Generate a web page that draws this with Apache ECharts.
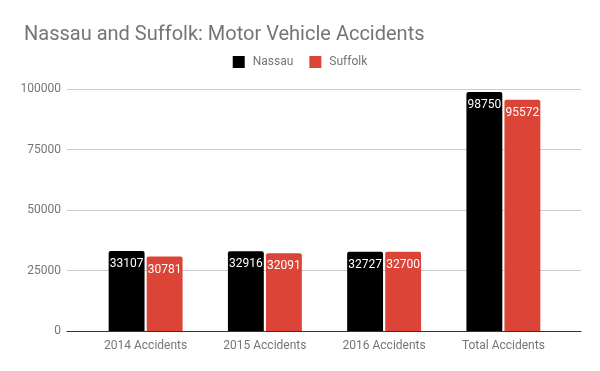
<!DOCTYPE html>
<html><head><meta charset="utf-8">
<script src="https://cdn.jsdelivr.net/npm/echarts@6/dist/echarts.min.js"></script>
<style>html,body{margin:0;padding:0;background:#fff}#c{width:600px;height:371px}</style>
</head><body><div id="c"></div>
<script>
const categories = ['2014 Accidents','2015 Accidents','2016 Accidents','Total Accidents'];
const nassau = [33107, 32916, 32727, 98750];
const suffolk = [30781, 32091, 32700, 95572];
const yTicks = {min:0, max:100000, interval:25000};

const chart = echarts.init(document.getElementById('c'));
const font = 'Roboto, sans-serif';
const label = {show:true, position:'insideTop', distance:7, color:'#fff', fontSize:12, fontFamily:font};
chart.setOption({
  animation:false,
  title:{text:'Nassau and Suffolk: Motor Vehicle Accidents', left:19, top:20,
    textStyle:{fontFamily:font, fontSize:20, fontWeight:'normal', color:'#757575'}},
  legend:{top:56, left:'center', itemWidth:12, itemHeight:12, itemGap:16, icon:'rect',
    padding:0, textStyle:{fontFamily:font, fontSize:12, color:'#757575', padding:[0,0,0,3]}},
  grid:[
    {left:67, right:19, top:89, bottom:40},
    {left:86, right:37, top:89, bottom:40}
  ],
  xAxis:[
    {type:'category', gridIndex:0, data:[''], show:true, axisLabel:{show:false}, axisTick:{show:false},
     axisLine:{show:true, lineStyle:{color:'#333', width:1}}},
    {type:'category', gridIndex:1, data:categories, axisTick:{show:false}, axisLine:{show:false},
     axisLabel:{fontFamily:font, fontSize:12, color:'#757575', margin:9}}
  ],
  yAxis:[
    {type:'value', gridIndex:0, min:yTicks.min, max:yTicks.max, interval:yTicks.interval,
     axisLabel:{fontFamily:font, fontSize:12, color:'#757575', margin:6, formatter:v=>String(v)},
     splitLine:{lineStyle:{color:'#ccc'}}, axisLine:{show:false}, axisTick:{show:false}},
    {type:'value', gridIndex:1, min:yTicks.min, max:yTicks.max, interval:yTicks.interval, show:false}
  ],
  series:[
    {name:'Nassau', type:'bar', xAxisIndex:1, yAxisIndex:1, data:nassau, barGap:'6%', barCategoryGap:'38%',
     itemStyle:{color:'#000', borderRadius:[2,2,0,0]}, label:label},
    {name:'Suffolk', type:'bar', xAxisIndex:1, yAxisIndex:1, data:suffolk,
     itemStyle:{color:'#db4437', borderRadius:[2,2,0,0]}, label:label}
  ]
});
</script></body></html>
